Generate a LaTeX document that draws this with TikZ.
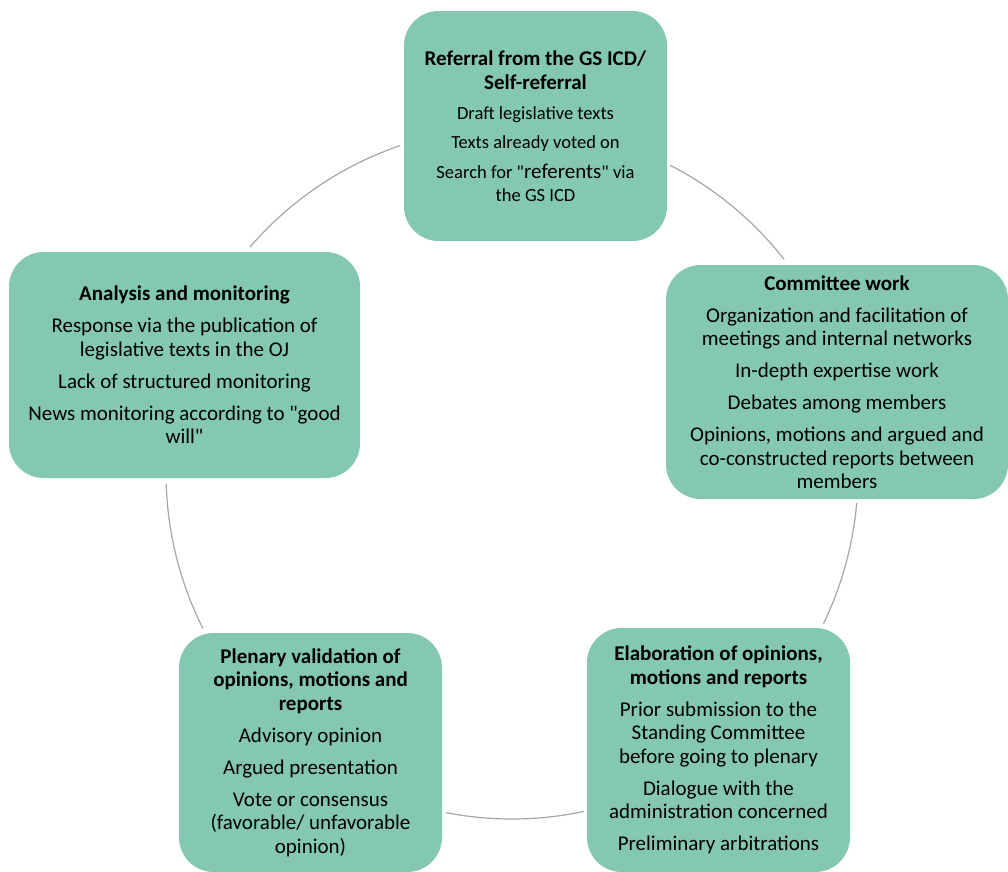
\documentclass[tikz,border=0pt]{standalone}
\usepackage{fontspec}
\setmainfont{Carlito}[Ligatures=TeXOff]
\definecolor{boxfill}{HTML}{84C8B4}
\definecolor{ringgray}{HTML}{A6A6A6}
\tikzset{
  stage/.style={draw=none, fill=boxfill, rounded corners=26pt, inner sep=0pt,
    align=center, text=black, font=\fontsize{15.75}{17.6}\selectfont},
  ring/.style={draw=ringgray, line width=0.9pt},
}
\newcommand{\smallbody}{\fontsize{13.9}{17.25}\selectfont}
\newcommand{\parskipgap}{6.4pt}

\begin{document}
\begin{tikzpicture}[x=0.75pt, y=-0.75pt]
\useasboundingbox (0,0) rectangle (1008,872);
\clip (0,0) rectangle (1008,872);

% centre of the cycle ring
\coordinate (hub) at (512,473);

% ring segments between the stages
\draw[ring] ([shift={(-139.2:346)}]hub) arc[start angle=-139.2, end angle=-108.9, radius=346];
\draw[ring] ([shift={(-62.8:346)}]hub) arc[start angle=-62.8, end angle=-38.1, radius=346];
\draw[ring] ([shift={(5.0:346)}]hub) arc[start angle=5.0, end angle=25.8, radius=346];
\draw[ring] ([shift={(78.0:346)}]hub) arc[start angle=78.0, end angle=101.0, radius=346];
\draw[ring] ([shift={(153.3:346)}]hub) arc[start angle=153.3, end angle=178.2, radius=346];

% stages
\node[stage, minimum width=197.25pt, minimum height=172.5pt,
      font=\fontsize{15.75}{17.25}\selectfont] (referral) at (535.5,126)
  {\textbf{Referral from the GS ICD/}\\[0.75pt]
   \textbf{Self-referral}\\[5.25pt]
   {\smallbody Draft legislative texts}\\[5pt]
   {\smallbody Texts already voted on}\\[5pt]
   {\smallbody Search for "\fontsize{15.75}{17.25}\selectfont referents\smallbody" via}\\
   {\smallbody the GS ICD}};

\node[stage, minimum width=256.5pt, minimum height=175.5pt] (committee) at (837,382)
  {\textbf{Committee work}\\[\parskipgap]
   Organization and facilitation of\\
   meetings and internal networks\\[\parskipgap]
   In-depth expertise work\\[\parskipgap]
   Debates among members\\[\parskipgap]
   Opinions, motions and argued and\\
   co-constructed reports between\\
   members};

\node[stage, minimum width=197.25pt, minimum height=183pt] (elaboration) at (718.5,750)
  {\textbf{Elaboration of opinions,}\\
   \textbf{motions and reports}\\[\parskipgap]
   Prior submission to the\\
   Standing Committee\\
   before going to plenary\\[\parskipgap]
   Dialogue with the\\
   administration concerned\\[\parskipgap]
   Preliminary arbitrations};

\node[stage, minimum width=197.25pt, minimum height=179.25pt] (plenary) at (310.5,752.5)
  {\textbf{Plenary validation of}\\
   \textbf{opinions, motions and}\\
   \textbf{reports}\\[\parskipgap]
   Advisory opinion\\[\parskipgap]
   Argued presentation\\[\parskipgap]
   Vote or consensus\\
   (favorable/ unfavorable\\
   opinion)};

\node[stage, minimum width=263.25pt, minimum height=169.5pt] (analysis) at (184.5,365)
  {\textbf{Analysis and monitoring}\\[\parskipgap]
   Response via the publication of\\
   legislative texts in the OJ\\[\parskipgap]
   Lack of structured monitoring\\[\parskipgap]
   News monitoring according to "good\\
   will"};
\end{tikzpicture}
\end{document}
